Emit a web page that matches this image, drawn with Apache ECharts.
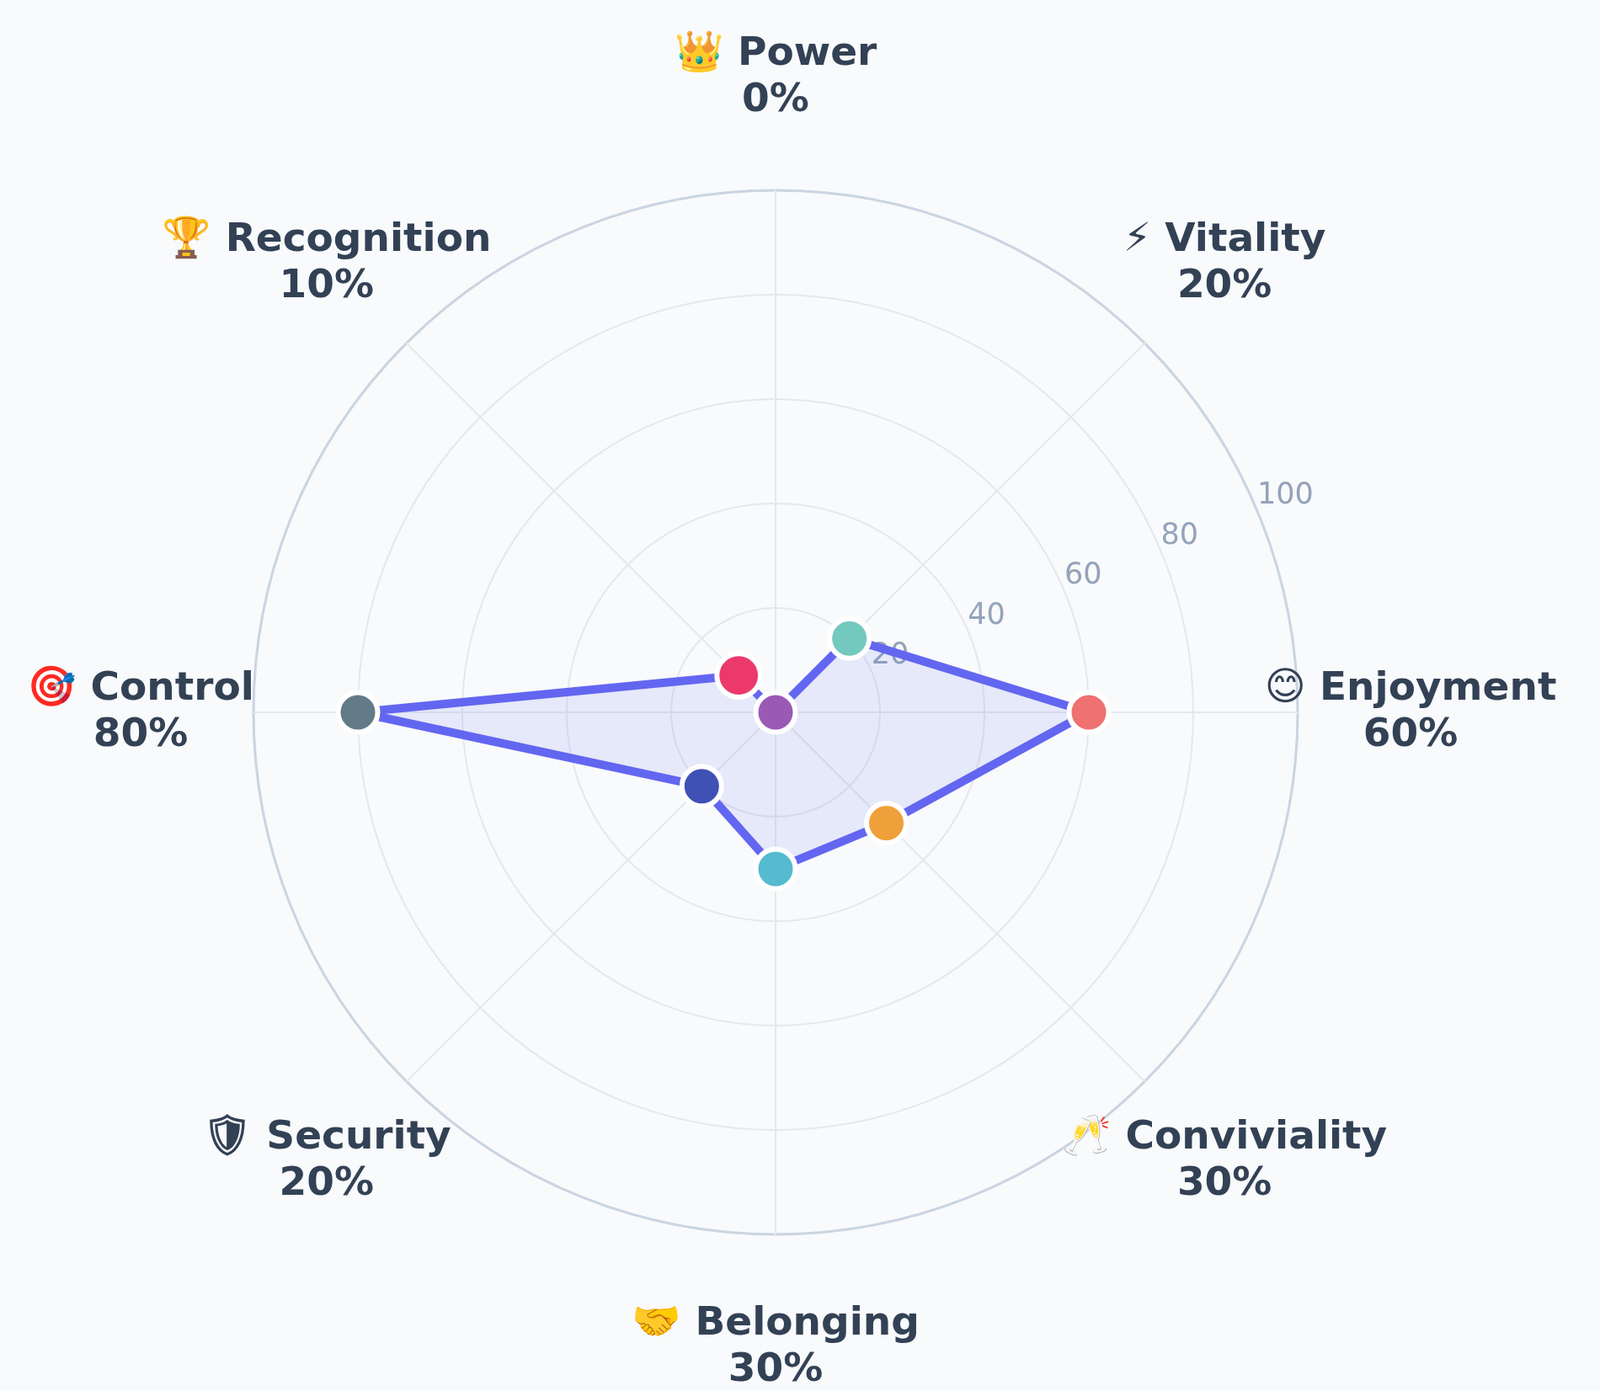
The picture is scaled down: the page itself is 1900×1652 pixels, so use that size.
<!DOCTYPE html>
<html>
<head>
<meta charset="utf-8">
<script src="https://cdn.jsdelivr.net/npm/echarts@6/dist/echarts.min.js"></script>
<style>
  html, body { margin: 0; padding: 0; background: #f8fafc; }
  #chart { width: 1900px; height: 1652px; }
</style>
</head>
<body>
<div id="chart"></div>
<script>
// categories clockwise from the top
var categories = ['Power', 'Vitality', 'Enjoyment', 'Conviviality', 'Belonging', 'Security', 'Control', 'Recognition'];
var icons = ['👑', '⚡', '😊', '🥂', '🤝', '🛡', '🎯', '🏆'];
var values = [0, 20, 60, 30, 30, 20, 80, 10];
var pointColors = ['#9b59b6', '#73c9be', '#ef7171', '#f0a03a', '#55bbd0', '#3f51b5', '#637b87', '#d63462'];
var radiusTicks = [0, 20, 40, 60, 80, 100];

var center = [921, 846];
var radius = 620;

// radar goes counter-clockwise, so walk the list backwards from Power
var radarOrder = [0, 7, 6, 5, 4, 3, 2, 1];

var chart = echarts.init(document.getElementById('chart'));

var option = {
  backgroundColor: '#f8fafc',
  radar: {
    center: center,
    radius: radius,
    shape: 'circle',
    startAngle: 90,
    splitNumber: 5,
    indicator: radarOrder.map(function (i) {
      return { name: icons[i] + ' ' + categories[i] + '\n' + values[i] + '%', min: 0, max: 100 };
    }),
    nameGap: 134,
    axisName: {
      color: '#334155',
      fontFamily: 'DejaVu Sans',
      fontWeight: 'bold',
      fontSize: 47,
      lineHeight: 55,
      align: 'center',
      verticalAlign: 'middle'
    },
    axisLine: { lineStyle: { color: '#e4e8ee', width: 2 } },
    axisTick: { show: false },
    axisLabel: { show: false },
    splitLine: {
      lineStyle: {
        color: ['#e4e8ee', '#e4e8ee', '#e4e8ee', '#e4e8ee', '#e4e8ee', '#cbd5e1'],
        width: 2
      }
    },
    splitArea: { show: false }
  },
  polar: {
    center: center,
    radius: radius
  },
  angleAxis: {
    type: 'value',
    min: 0,
    max: 360,
    startAngle: 22.5,
    clockwise: true,
    axisLine: { show: true, lineStyle: { color: '#cbd5e1', width: 3 } },
    axisTick: { show: false },
    axisLabel: { show: false },
    splitLine: { show: false }
  },
  radiusAxis: {
    type: 'value',
    min: radiusTicks[0],
    max: radiusTicks[radiusTicks.length - 1],
    interval: 20,
    axisLine: { show: false },
    axisTick: { show: false },
    splitLine: { show: false },
    axisLabel: {
      showMinLabel: false,
      color: '#94a3b8',
      fontFamily: 'DejaVu Sans',
      fontSize: 35,
      align: 'left',
      verticalAlign: 'bottom',
      margin: 2
    }
  },
  series: [{
    type: 'radar',
    z: 3,
    symbol: 'none',
    lineStyle: { color: '#6366f1', width: 10 },
    areaStyle: { color: 'rgba(99,102,241,0.16)' },
    data: [{ value: radarOrder.map(function (i) { return values[i]; }) }]
  }, {
    type: 'scatter',
    coordinateSystem: 'polar',
    z: 4,
    symbolSize: 47,
    data: values.map(function (v, i) {
      return {
        value: [v, (i * 45 - 67.5 + 360) % 360],
        itemStyle: { color: pointColors[i], opacity: 1, borderColor: '#ffffff', borderWidth: 6 }
      };
    })
  }]
};

chart.setOption(option);
</script>
</body>
</html>
